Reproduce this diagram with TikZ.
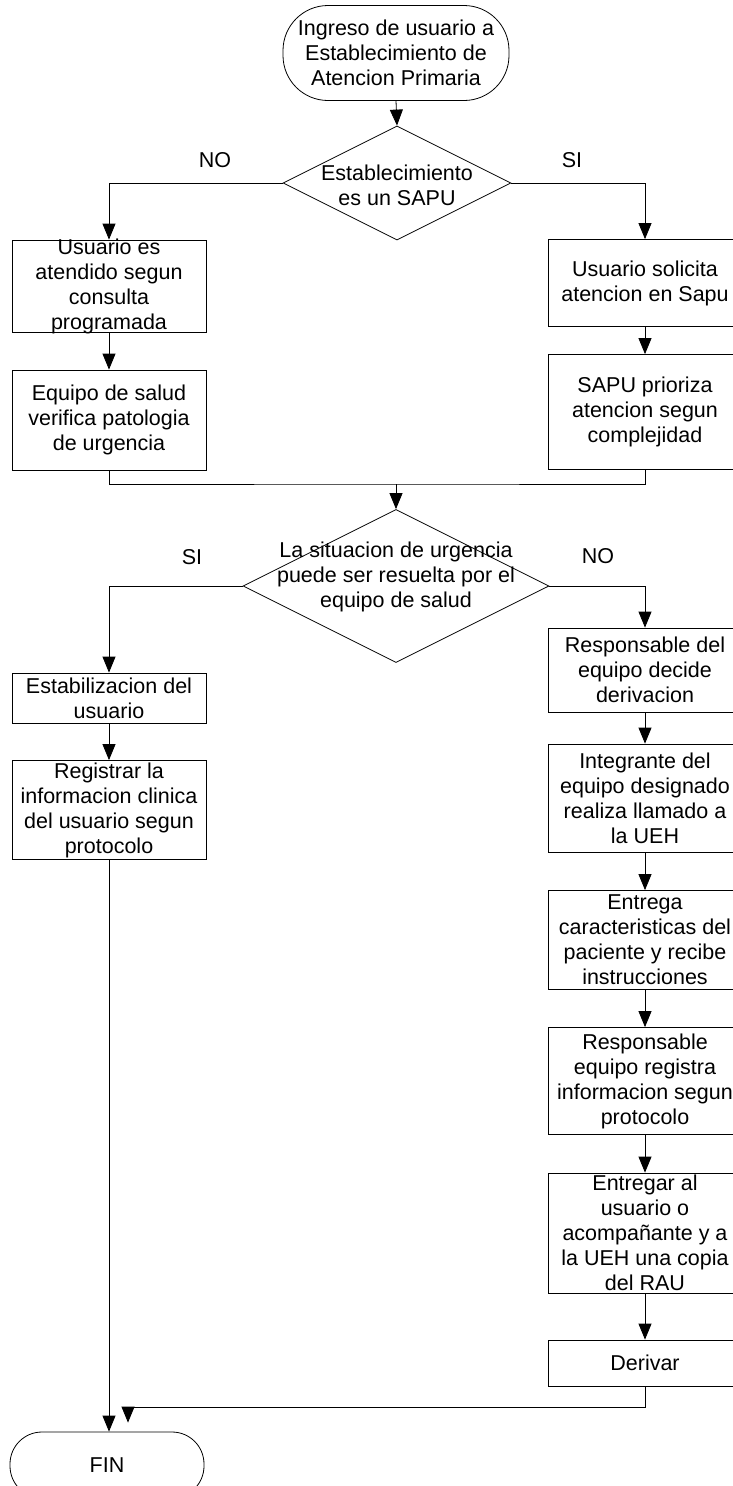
\documentclass[tikz,border=0pt]{standalone}
\usepackage{fontspec}
\setmainfont{Liberation Sans}
\usetikzlibrary{shapes.geometric,arrows.meta}
\newcommand\fsz{\fontsize{21.5}{25}\selectfont}
\begin{document}
\begin{tikzpicture}[x=1pt,y=-1pt,
  line width=0.8pt,
  box/.style={draw, rectangle, minimum width=194pt, inner sep=0pt},
  lbl/.style={align=center, font=\fsz, inner sep=0pt},
  term/.style={draw, rectangle, inner sep=0pt},
  dec/.style={draw, diamond, inner sep=0pt},
  arr/.style={-{Triangle[length=16pt,width=13pt]}},
  tag/.style={font=\fsz, inner sep=0pt}]
\clip (0,0) rectangle (733,1486);
\fill[white] (0,0) rectangle (733,1486);

% start
\node[term, rounded corners=45pt, minimum width=226pt, minimum height=95pt,
  label={[lbl]center:{Ingreso de usuario a\\Establecimiento de\\Atencion Primaria}}] (start) at (396,53) {};
% decision 1
\node[dec, minimum width=228pt, minimum height=114pt] (d1) at (397,183) {};
\node[lbl] (d1t) at (397,185) {Establecimiento\\es un SAPU};
% left column
\node[box, minimum height=92pt, label={[lbl]center:{Usuario es\\atendido segun\\consulta\\programada}}] (l1) at (109,286) {};
\node[box, minimum height=100pt, label={[lbl]center:{Equipo de salud\\verifica patologia\\de urgencia}}] (l2) at (109,420) {};
% right column
\node[box, minimum height=87pt, label={[lbl]center:{Usuario solicita\\atencion en Sapu}}] (r1) at (645,283) {};
\node[box, minimum height=115pt, label={[lbl]center:{SAPU prioriza\\atencion segun\\complejidad}}] (r2) at (645,412) {};
% decision 2
\node[dec, minimum width=306pt, minimum height=153pt] (d2) at (396,586) {};
\node[lbl] (d2t) at (396,577) {La situacion de urgencia\\puede ser resuelta por el\\equipo de salud};
\coordinate (m) at (396,484);
% left lower
\node[box, minimum height=50pt, label={[lbl]center:{Estabilizacion del\\usuario}}] (l3) at (109,698) {};
\node[box, minimum height=99pt, label={[lbl]center:{Registrar la\\informacion clinica\\del usuario segun\\protocolo}}] (l4) at (109,810) {};
% right lower
\node[box, minimum height=84pt, label={[lbl]center:{Responsable del\\equipo decide\\derivacion}}] (r3) at (645,670) {};
\node[box, minimum height=108pt, label={[lbl]center:{Integrante del\\equipo designado\\realiza llamado a\\la UEH}}] (r4) at (645,798) {};
\node[box, minimum height=99pt, label={[lbl]center:{Entrega\\caracteristicas del\\paciente y recibe\\instrucciones}}] (r5) at (645,940) {};
\node[box, minimum height=107pt, label={[lbl]center:{Responsable\\equipo registra\\informacion segun\\protocolo}}] (r6) at (645,1081) {};
\node[box, minimum height=120pt, label={[lbl]center:{Entregar al\\usuario o\\acompañante y a\\la UEH una copia\\del RAU}}] (r7) at (645,1233) {};
\node[box, minimum height=46pt, label={[lbl]center:{Derivar}}] (r8) at (645,1363) {};
% end
\node[term, rounded corners=32pt, minimum width=194pt, minimum height=66pt,
  label={[lbl]center:{FIN}}] (fin) at (107,1465) {};
\coordinate (f2) at (128,1407);

% labels
\node[tag] (no1) at (215,160) {NO};
\node[tag] (si1) at (572,160) {SI};
\node[tag] (si2) at (192,557) {SI};
\node[tag] (no2) at (598,556) {NO};

% connectors
\draw[arr] (start.south) -- (d1.north);
\draw[arr] (d1.west) -| (l1.north);
\draw[arr] (d1.east) -| (r1.north);
\draw[arr] (l1.south) -- (l2.north);
\draw[arr] (r1.south) -- (r2.north);
\draw (l2.south) |- (m) -| (r2.south);
\draw[arr] (m) -- (d2.north);
\draw[arr] (d2.west) -| (l3.north);
\draw[arr] (d2.east) -| (r3.north);
\draw[arr] (l3.south) -- (l4.north);
\draw[arr] (l4.south) -- (l4.south |- fin.north);
\draw[arr] (r3.south) -- (r4.north);
\draw[arr] (r4.south) -- (r5.north);
\draw[arr] (r5.south) -- (r6.north);
\draw[arr] (r6.south) -- (r7.north);
\draw[arr] (r7.south) -- (r8.north);
\draw[arr] (r8.south) |- (f2) -- ([yshift=9pt]fin.north -| f2);
\end{tikzpicture}
\end{document}
